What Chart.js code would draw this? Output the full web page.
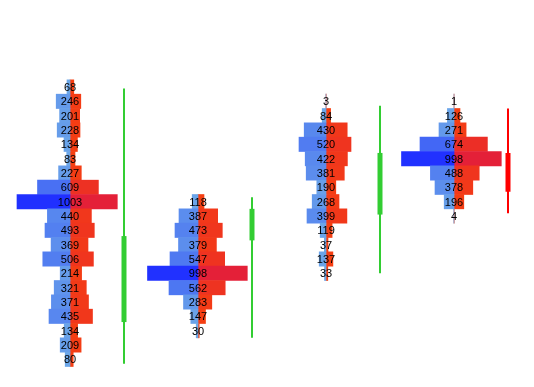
<!DOCTYPE html>
<html>
<head>
<meta charset="utf-8">
<script src="https://cdn.jsdelivr.net/npm/chart.js@4/dist/chart.umd.min.js"></script>
<style>
  body { margin: 0; background: #fff; }
  canvas { display: block; }
</style>
</head>
<body>
<canvas id="footprint" width="534" height="387"></canvas>
<script>
// four 5-minute bars, each with a bid/ask volume ladder
const candleTimes = ['10:00', '10:05', '10:10', '10:15'];

const opens  = [2142.6, 2148.3, 2150.1, 2154.4];
const highs  = [2158.9, 2151.3, 2157.7, 2157.5];
const lows   = [2139.7, 2141.5, 2146.0, 2150.2];
const closes = [2148.6, 2150.5, 2154.4, 2151.7];

// price rows of each ladder (top to bottom)
const prices1 = [2159, 2158, 2157, 2156, 2155, 2154, 2153, 2152, 2151, 2150, 2149, 2148, 2147, 2146, 2145, 2144, 2143, 2142, 2141, 2140];
const bid1 = [30, 138, 104, 128, 60, 33, 114, 325, 530, 226, 250, 189, 272, 98, 158, 186, 210, 58, 98, 48];
const ask1 = [38, 108, 97, 100, 74, 50, 113, 284, 473, 214, 243, 180, 234, 116, 163, 185, 225, 76, 111, 32];

const prices2 = [2151, 2150, 2149, 2148, 2147, 2146, 2145, 2144, 2143, 2142];
const bid2 = [58, 190, 230, 195, 280, 505, 290, 145, 72, 18];
const ask2 = [60, 197, 243, 184, 267, 493, 272, 138, 75, 12];

const prices3 = [2158, 2157, 2156, 2155, 2154, 2153, 2152, 2151, 2150, 2149, 2148, 2147, 2146];
const bid3 = [1, 38, 218, 270, 208, 198, 92, 138, 190, 58, 17, 68, 15];
const ask3 = [2, 46, 212, 250, 214, 183, 98, 130, 209, 61, 20, 69, 18];

const prices4 = [2158, 2157, 2156, 2155, 2154, 2153, 2152, 2151, 2150];
const bid4 = [0, 66, 150, 340, 525, 236, 190, 98, 2];
const ask4 = [1, 60, 121, 334, 473, 252, 188, 98, 2];

const ladders = [
    { prices: prices1, bid: bid1, ask: ask1 },
    { prices: prices2, bid: bid2, ask: ask2 },
    { prices: prices3, bid: bid3, ask: ask3 },
    { prices: prices4, bid: bid4, ask: ask4 }
];

const volUnit = 1 / 1280;      // candle slot = 1 unit = 128px, 0.1px per contract
const ladderOffset = 0.421875; // ladder axis sits 54px left of the candle

let maxTotal = 0;
ladders.forEach(l => l.bid.forEach((b, i) => { maxTotal = Math.max(maxTotal, b + l.ask[i]); }));

function mix(a, b, t) {
    const c = a.map((v, i) => Math.round(v + (b[i] - v) * t));
    return `rgb(${c[0]}, ${c[1]}, ${c[2]})`;
}
const bidLight = [110, 170, 232], bidDark = [32, 48, 255];
const askLight = [246, 64, 16], askDark = [228, 32, 56];

function shade(light, dark) {
    return ctx => {
        const d = ctx.raw;
        if (!d) return mix(light, dark, 0);
        return mix(light, dark, Math.pow(d.total / maxTotal, 1.5));
    };
}

const datasets = [];

ladders.forEach((l, c) => {
    const mid = c - ladderOffset;
    const bidData = l.prices.map((p, i) => ({ y: p, x: [mid - l.bid[i] * volUnit, mid], total: l.bid[i] + l.ask[i], mid: mid }));
    const askData = l.prices.map((p, i) => ({ y: p, x: [mid, mid + l.ask[i] * volUnit], total: l.bid[i] + l.ask[i], mid: mid }));
    datasets.push({
        type: 'bar', label: 'bid ' + candleTimes[c], indexAxis: 'y', grouped: false,
        data: bidData, backgroundColor: shade(bidLight, bidDark),
        barPercentage: 1, categoryPercentage: 1, borderWidth: 0, isAsk: false
    });
    datasets.push({
        type: 'bar', label: 'ask ' + candleTimes[c], indexAxis: 'y', grouped: false,
        data: askData, backgroundColor: shade(askLight, askDark),
        barPercentage: 1, categoryPercentage: 1, borderWidth: 0, isAsk: true
    });
});

// candles: wick then body, drawn as two-point lines
candleTimes.forEach((t, c) => {
    const col = closes[c] >= opens[c] ? '#32cd32' : '#ff0000';
    datasets.push({
        type: 'line', label: 'wick ' + t,
        data: [{ x: c, y: lows[c] }, { x: c, y: highs[c] }],
        borderColor: col, borderWidth: 2, pointRadius: 0, tension: 0
    });
    datasets.push({
        type: 'line', label: 'body ' + t,
        data: [{ x: c, y: opens[c] }, { x: c, y: closes[c] }],
        borderColor: col, borderWidth: 5, pointRadius: 0, tension: 0
    });
});

// total volume printed on the ladder axis of every row
const ladderLabels = {
    id: 'ladderLabels',
    afterDatasetsDraw(chart) {
        const g = chart.ctx;
        const xs = chart.scales.x, ys = chart.scales.y;
        g.save();
        g.font = '11px "Liberation Sans", Arial, sans-serif';
        g.fillStyle = '#000';
        g.textAlign = 'center';
        g.textBaseline = 'middle';
        chart.data.datasets.forEach(ds => {
            if (!ds.isAsk) return;
            ds.data.forEach(d => {
                g.fillText(String(d.total), xs.getPixelForValue(d.mid), ys.getPixelForValue(d.y) + 1);
            });
        });
        g.restore();
    }
};

new Chart(document.getElementById('footprint'), {
    data: { datasets: datasets },
    options: {
        responsive: false,
        animation: false,
        events: [],
        layout: { padding: 0 },
        plugins: { legend: { display: false }, tooltip: { enabled: false } },
        scales: {
            x: { type: 'linear', display: false, bounds: 'data', offset: false,
                 min: -0.96875, max: 3.203125, ticks: { includeBounds: false } },
            y: { type: 'linear', display: false, bounds: 'data', offset: false,
                 min: 2138.07, max: 2165.07, ticks: { stepSize: 2, includeBounds: false } }
        }
    },
    plugins: [ladderLabels]
});
</script>
</body>
</html>
